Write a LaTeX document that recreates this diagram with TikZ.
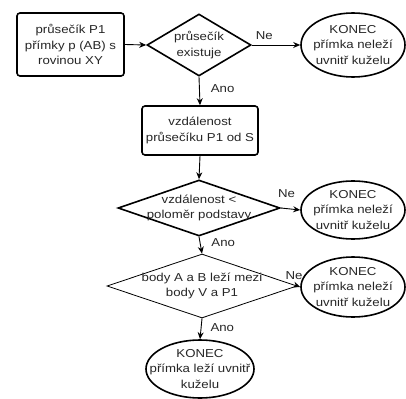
\documentclass[tikz,border=0pt]{standalone}
\usepackage{fontspec}
\setmainfont{Liberation Sans}[FakeStretch=1.15]
\usetikzlibrary{shapes.geometric,arrows.meta}
\begin{document}
\begin{tikzpicture}[x=1pt,y=-1pt,
  every node/.style={font=\fontsize{11.5}{15.5}\selectfont, text=black!85},
  box/.style={draw, rectangle, line width=1.6pt, rounded corners=3pt, inner sep=0pt, label={[align=center]center:{#1}}},
  dia/.style={draw, diamond, line width=1.6pt, inner sep=0pt, label={[align=center]center:{#1}}},
  thindia/.style={draw, diamond, line width=0.8pt, inner sep=0pt, label={[align=center]center:{#1}}},
  ell/.style={draw, ellipse, line width=1.6pt, inner sep=0pt, label={[align=center]center:{#1}}},
  arr/.style={-{Stealth[length=7pt,width=6pt]}, line width=0.9pt},
  lbl/.style={inner sep=1pt}
]
\useasboundingbox (0,0) rectangle (406,398);

\node[box={průsečík P1\\přímky p (AB) s\\rovinou XY}, minimum width=107pt, minimum height=63pt] (b1) at (70.5,44.5) {};
\node[dia={průsečík\\existuje}, minimum width=104pt, minimum height=62pt] (d1) at (199,45) {};
\node[ell={KONEC\\přímka neleží\\uvnitř kuželu}, minimum width=104pt, minimum height=64pt] (e1) at (353,45) {};

\node[box={vzdálenost\\průsečíku P1 od S}, minimum width=116pt, minimum height=49pt] (b2) at (200,130.5) {};

\node[dia={vzdálenost <\\poloměr podstavy}, minimum width=162pt, minimum height=56pt] (d2) at (199,208) {};
\node[ell={KONEC\\přímka neleží\\uvnitř kuželu}, minimum width=104pt, minimum height=58pt] (e2) at (353,210) {};

\node[thindia={body A a B leží mezi\\body V a P1}, minimum width=190pt, minimum height=64pt] (d3) at (202,286) {};
\node[ell={KONEC\\přímka neleží\\uvnitř kuželu}, minimum width=104pt, minimum height=60pt] (e3) at (353,287) {};

\node[ell={KONEC\\přímka leží uvnitř\\kuželu}, minimum width=108pt, minimum height=58pt] (e4) at (200,369) {};

\draw[arr] (b1.east) -- (d1.west);
\draw[arr] (d1.east) -- node[lbl, pos=0.26, above=4pt] {Ne} (e1.west);
\draw[arr] (d1.south) -- node[lbl, pos=0.4, right=10pt] {Ano} (b2.north);
\draw[arr] (b2.south) -- (d2.north);
\draw[arr] (d2.east) -- node[lbl, pos=0.3, above=10pt] {Ne} (e2.west);
\draw[arr] (d2.south) -- node[lbl, pos=0.33, right=10pt] {Ano} (d3.north);
\draw[arr] (d3.east) -- node[lbl, pos=0.2, above=5pt, xshift=-4pt] {Ne} (e3.west);
\draw[arr] (d3.south) -- node[lbl, pos=0.45, right=8pt] {Ano} (e4.north);
\end{tikzpicture}
\end{document}
